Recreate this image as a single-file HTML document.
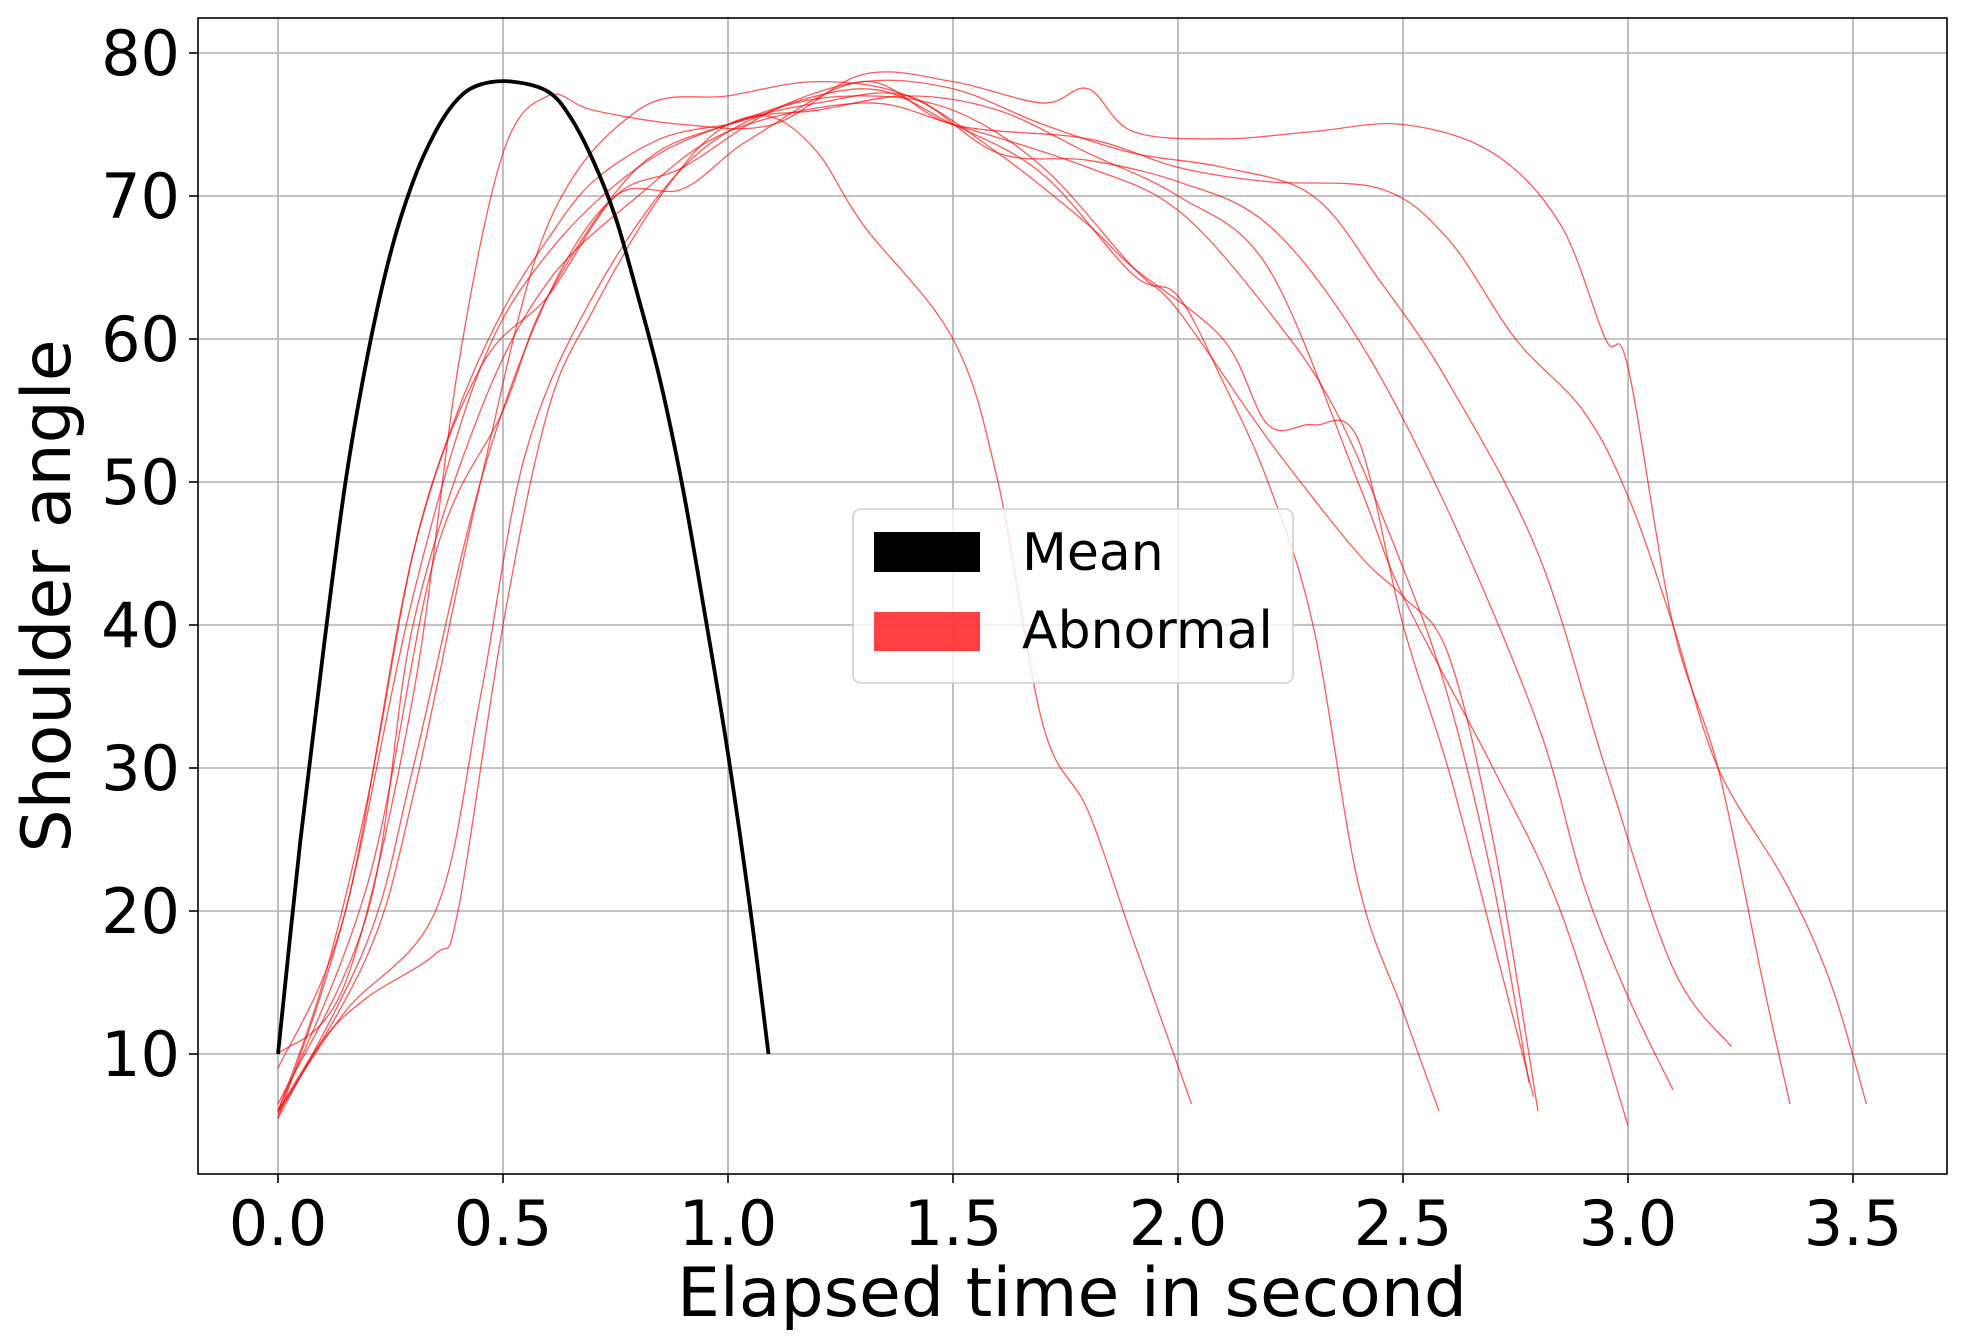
<!DOCTYPE html>
<html><head><meta charset="utf-8">
<style>
html,body{margin:0;padding:0;background:#fff;}
svg{display:block;font-family:"DejaVu Sans","Liberation Sans",sans-serif;}
</style></head>
<body>
<svg id="chart" width="1963" height="1344" viewBox="0 0 1963 1344" xmlns="http://www.w3.org/2000/svg">
<g id="grid"></g>
<g id="series"></g>
<rect x="198" y="18" width="1749" height="1156" fill="none" stroke="#000" stroke-width="1.6"/>
<g id="axes"></g>
<text x="1072" y="1316" font-size="68" text-anchor="middle">Elapsed time in second</text>
<text transform="translate(70,596) rotate(-90)" font-size="68" text-anchor="middle">Shoulder angle</text>
<g>
<rect x="853" y="509" width="440" height="174" rx="8" fill="#fff" fill-opacity="0.8" stroke="#d0d0d0" stroke-width="1.6"/>
<rect x="874" y="532" width="106" height="40" fill="#000"/>
<text x="1022" y="570" font-size="52">Mean</text>
<rect x="874" y="612" width="106" height="39" fill="#ff0000" fill-opacity="0.75"/>
<text x="1022" y="648" font-size="52">Abnormal</text>
</g>
</svg>
<script>
const xTicks=[0.0,0.5,1.0,1.5,2.0,2.5,3.0,3.5];
const xTickLabels=["0.0","0.5","1.0","1.5","2.0","2.5","3.0","3.5"];
const yTicks=[10,20,30,40,50,60,70,80];
const yTickLabels=["10","20","30","40","50","60","70","80"];
const meanT=[0,0.05,0.1,0.15,0.2,0.25,0.3,0.35,0.4,0.45,0.52,0.6,0.65,0.7,0.75,0.8,0.85,0.9,0.95,1.0,1.05,1.09];
const meanY=[10,25,38,50,59,66,71,74.5,76.8,77.8,78,77.3,75.5,72.5,68.5,63,57,49.5,40.5,31,20,10];
const ab1=[[0,6],[0.1,15],[0.2,28],[0.3,45],[0.4,55],[0.5,62],[0.6,67],[0.7,71],[0.85,74],[1.0,75],[1.1,75.5],[1.2,73],[1.3,68],[1.5,60],[1.6,50],[1.7,33],[1.8,27],[1.9,18],[2.03,6.5]];
const ab2=[[0,5.5],[0.15,20],[0.3,42],[0.45,58],[0.6,66],[0.8,72],[1.0,75],[1.3,77.5],[1.5,75],[1.7,71.5],[1.9,64.5],[2.0,63],[2.1,57],[2.2,50],[2.3,40],[2.4,22],[2.5,13],[2.58,6]];
const ab3=[[0,6.5],[0.2,20],[0.3,40],[0.45,55],[0.6,64],[0.8,70],[1.0,74.5],[1.3,76.5],[1.5,75],[1.8,72],[2.0,69],[2.2,62],[2.35,55],[2.5,44],[2.6,35],[2.7,22],[2.78,8]];
const ab4=[[0,5.8],[0.2,17],[0.3,28],[0.45,50],[0.6,68],[0.8,76],[1.0,77],[1.2,78],[1.4,77],[1.6,73],[1.8,68],[1.9,65],[2.1,60],[2.2,54],[2.3,54],[2.4,53],[2.5,40],[2.6,30],[2.7,18],[2.79,7]];
const ab5=[[0,6],[0.15,13],[0.35,20],[0.45,35],[0.55,52],[0.7,63],[0.9,72],[1.1,76],[1.3,77],[1.5,76],[1.7,72],[1.9,65],[2.0,62],[2.2,53],[2.4,45],[2.5,42],[2.6,38],[2.7,25],[2.8,6]];
const ab6=[[0,6],[0.1,11],[0.2,14],[0.35,17],[0.4,20],[0.5,40],[0.6,55],[0.7,62],[0.85,70],[1.0,75],[1.2,76],[1.4,77],[1.6,76],[1.8,73],[2.0,70],[2.2,65],[2.4,50],[2.5,42],[2.7,30],[2.85,20],[3.0,5]];
const ab7=[[0,6],[0.2,22],[0.35,45],[0.5,55],[0.6,63],[0.8,72],[1.0,75],[1.2,76.5],[1.4,77],[1.6,73],[1.8,72.5],[2.0,71],[2.2,68],[2.4,60],[2.6,48],[2.8,33],[2.9,22],[3.0,14],[3.1,7.5]];
const ab8=[[0,9],[0.15,20],[0.3,45],[0.45,58],[0.6,63],[0.75,70],[0.9,72],[1.1,76],[1.3,78],[1.5,77.5],[1.7,75],[1.9,73],[2.1,72],[2.3,70],[2.45,64],[2.6,57],[2.8,45],[2.95,30],[3.1,16],[3.23,10.5]];
const ab9=[[0,10],[0.15,15],[0.3,35],[0.4,58],[0.5,73],[0.6,77],[0.7,76],[0.9,75],[1.1,75],[1.3,78.5],[1.5,78],[1.7,76.5],[1.8,77.5],[1.9,74.5],[2.1,74],[2.3,74.5],[2.5,75],[2.7,73],[2.85,68],[2.95,60],[3.0,58],[3.1,40],[3.2,30],[3.3,15],[3.36,6.5]];
const ab10=[[0,5.5],[0.2,18],[0.3,30],[0.45,50],[0.6,63],[0.75,70],[0.9,70.5],[1.05,74],[1.3,78],[1.5,75],[1.8,74],[2.0,72],[2.2,71],[2.45,70.5],[2.6,67],[2.75,60],[2.9,55],[3.0,49],[3.1,40],[3.2,30],[3.35,22],[3.45,15],[3.53,6.5]];
const abnormal=[ab1,ab2,ab3,ab4,ab5,ab6,ab7,ab8,ab9,ab10];

const NS="http://www.w3.org/2000/svg";
const PL=198,PR=1947,PT=18,PB=1174;
function xs(t){return 278+t*450;}
function ys(v){return 1054-(v-10)*(1001/70);}
function mk(tag,attrs,parent){const e=document.createElementNS(NS,tag);for(const k in attrs)e.setAttribute(k,attrs[k]);parent.appendChild(e);return e;}
function smooth(pts){
  let d="M"+pts[0][0].toFixed(1)+","+pts[0][1].toFixed(1);
  for(let i=0;i<pts.length-1;i++){
    const p0=pts[i-1]||pts[i],p1=pts[i],p2=pts[i+1],p3=pts[i+2]||p2;
    const c1=[p1[0]+(p2[0]-p0[0])/6,p1[1]+(p2[1]-p0[1])/6];
    const c2=[p2[0]-(p3[0]-p1[0])/6,p2[1]-(p3[1]-p1[1])/6];
    d+=" C"+c1[0].toFixed(1)+","+c1[1].toFixed(1)+" "+c2[0].toFixed(1)+","+c2[1].toFixed(1)+" "+p2[0].toFixed(1)+","+p2[1].toFixed(1);
  }
  return d;
}
const grid=document.getElementById('grid');
const axes=document.getElementById('axes');
const series=document.getElementById('series');
xTicks.forEach((t,i)=>{
  const x=xs(t);
  const g=mk('line',{x1:x,x2:x,y1:PT,y2:PB,stroke:'#b0b0b0','stroke-width':1.6},grid);
  
  
  const tk=mk('line',{x1:x,x2:x,y1:PB,y2:PB+9,stroke:'#000','stroke-width':1.6},axes);
  
  
  const lb=mk('text',{x:x,y:1245,'font-size':62,'text-anchor':'middle'},axes);
  lb.textContent=xTickLabels[i];
  
  
});
yTicks.forEach((v,i)=>{
  const y=ys(v);
  const g=mk('line',{x1:PL,x2:PR,y1:y,y2:y,stroke:'#b0b0b0','stroke-width':1.6},grid);
  
  
  const tk=mk('line',{x1:PL-9,x2:PL,y1:y,y2:y,stroke:'#000','stroke-width':1.6},axes);
  
  
  const lb=mk('text',{x:180,y:y+22,'font-size':62,'text-anchor':'end'},axes);
  lb.textContent=yTickLabels[i];
  
  
});
abnormal.forEach((c,i)=>{
  const p=mk('path',{d:smooth(c.map(q=>[xs(q[0]),ys(q[1])])),fill:'none',stroke:'#ff0000','stroke-opacity':0.65,'stroke-width':1.3},series);
  
  
});
const mp=mk('path',{d:smooth(meanT.map((t,i)=>[xs(t),ys(meanY[i])])),fill:'none',stroke:'#000','stroke-width':3.8},series);


</script>
</body></html>
